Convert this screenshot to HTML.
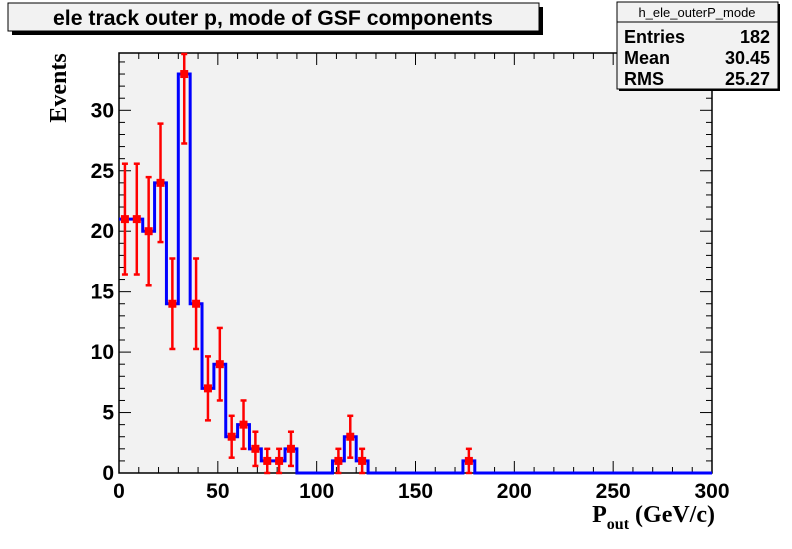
<!DOCTYPE html>
<html><head><meta charset="utf-8"><style>
body{margin:0;background:#fff;}
svg text{font-family:"Liberation Sans",sans-serif;font-weight:bold;}
</style></head><body>
<svg id="c" width="792" height="544" xmlns="http://www.w3.org/2000/svg">
<rect x="0" y="0" width="792" height="544" fill="#fff"/>
<rect x="119" y="53" width="593" height="420" fill="#f2f2f2" stroke="#000" stroke-width="1.5"/>
<g id="ticks"></g>
<g id="hist"></g>
<g id="pts"></g>
<g>
<rect x="12" y="7" width="531" height="28" fill="#000"/>
<rect x="8" y="3" width="531" height="28" fill="#f2f2f2" stroke="#000" stroke-width="1"/>
<text x="273" y="25" font-size="21" text-anchor="middle" textLength="440" lengthAdjust="spacingAndGlyphs">ele track outer p, mode of GSF components</text>
</g>
<g>
<rect x="619" y="4" width="161" height="87" fill="#000"/>
<rect x="617" y="2" width="161" height="87" fill="#f2f2f2" stroke="#000" stroke-width="1"/>
<line x1="617" y1="22" x2="778" y2="22" stroke="#000"/>
<text x="697" y="17" font-size="13" text-anchor="middle" style="font-weight:normal">h_ele_outerP_mode</text>
<text x="624" y="43" font-size="18">Entries</text>
<text x="770" y="43" font-size="18" text-anchor="end">182</text>
<text x="624" y="64" font-size="18">Mean</text>
<text x="770" y="64" font-size="18" text-anchor="end">30.45</text>
<text x="624" y="85" font-size="18">RMS</text>
<text x="770" y="85" font-size="18" text-anchor="end">25.27</text>
</g>
<text transform="translate(66,88) rotate(-90)" font-size="24" text-anchor="middle" style="font-family:'Liberation Serif',serif">Events</text>
<text x="715" y="522" font-size="24" text-anchor="end" style="font-family:'Liberation Serif',serif">P<tspan font-size="16" dy="7">out</tspan><tspan dy="-7"> (GeV/c)</tspan></text>
</svg>
<script>
const binWidth = 6;
const counts = [21,21,20,24,14,33,14,7,9,3,4,2,1,1,2,0,0,0,1,3,1,0,0,0,0,0,0,0,0,1,0,0,0,0,0,0,0,0,0,0,0,0,0,0,0,0,0,0,0,0];
const xTicks = [0,50,100,150,200,250,300];
const yTicks = [0,5,10,15,20,25,30];
const X0=119,X1=712,Y0=473,Y1=53,xmin=0,xmax=300,ymin=0,ymax=34.74;
const sx=v=>X0+(v-xmin)/(xmax-xmin)*(X1-X0);
const sy=v=>Y0-(v-ymin)/(ymax-ymin)*(Y0-Y1);
const cy=v=>Math.max(Y1,Math.min(Y0,sy(v)));
const NS='http://www.w3.org/2000/svg';
function mk(tag,attrs,parent){const e=document.createElementNS(NS,tag);for(const k in attrs)e.setAttribute(k,attrs[k]);parent.appendChild(e);return e;}
const tk=document.getElementById('ticks');
for(let v=0;v<=300;v+=10){const x=sx(v),L=(v%50===0)?12:6;
 const t=mk('line',{x1:x,y1:Y0,x2:x,y2:Y0-L,stroke:'#000','stroke-width':1},tk);
 
 
 const t2=mk('line',{x1:x,y1:Y1,x2:x,y2:Y1+L,stroke:'#000','stroke-width':1},tk);
 
 }
for(let v=0;v<=34;v+=1){const y=sy(v),L=(v%5===0)?12:6;
 const t=mk('line',{x1:X0,y1:y,x2:X0+L,y2:y,stroke:'#000','stroke-width':1},tk);
 
 
 const t2=mk('line',{x1:X1,y1:y,x2:X1-L,y2:y,stroke:'#000','stroke-width':1},tk);
 
 }
xTicks.forEach(v=>{const t=mk('text',{x:sx(v),y:Y0+25,'font-size':21,'text-anchor':'middle'},tk);t.textContent=v;
 
 });
yTicks.forEach(v=>{const t=mk('text',{x:X0-5,y:sy(v)+7,'font-size':21,'text-anchor':'end'},tk);t.textContent=v;
 
 });
let d='';
counts.forEach((c,i)=>{d+=(i===0?'M':' L')+sx(i*binWidth)+','+cy(c)+' L'+sx((i+1)*binWidth)+','+cy(c);});
const h=mk('path',{d:d,fill:'none',stroke:'#0000ff','stroke-width':3},document.getElementById('hist'));


const pg=document.getElementById('pts');
counts.forEach((c,i)=>{if(c<=0)return;const x=sx((i+0.5)*binWidth),e=Math.sqrt(c);
 const g=mk('g',{},pg);
 
 
 const yt=cy(c+e),yb=cy(c-e);
 mk('line',{x1:x,y1:yt,x2:x,y2:yb,stroke:'#ff0000','stroke-width':2.5},g);
 if(sy(c+e)>=Y1) mk('line',{x1:x-3,y1:yt,x2:x+3,y2:yt,stroke:'#ff0000','stroke-width':2.5},g);
 else mk('line',{x1:x-3,y1:Y1+1,x2:x+3,y2:Y1+1,stroke:'#ff0000','stroke-width':2.5},g);
 mk('line',{x1:x-3,y1:yb,x2:x+3,y2:yb,stroke:'#ff0000','stroke-width':2.5},g);
 mk('rect',{x:x-4,y:sy(c)-4,width:8,height:8,fill:'#ff0000'},g);});
</script>
</body></html>
